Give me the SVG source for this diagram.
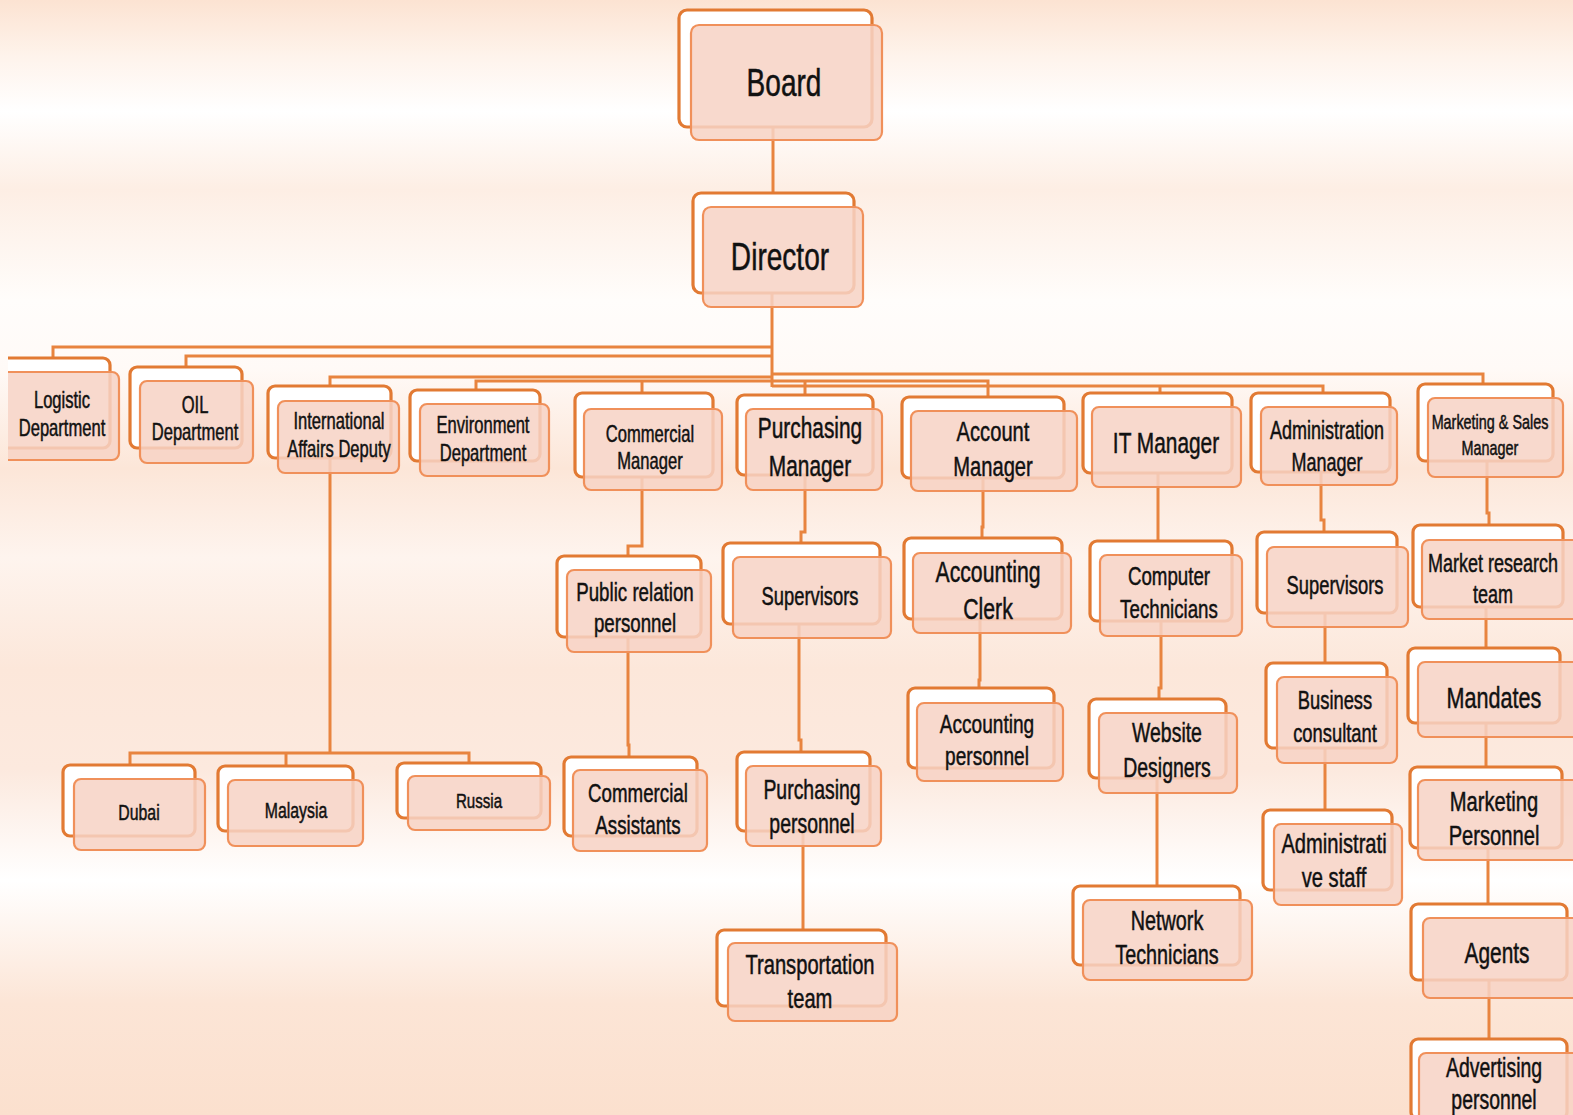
<svg xmlns="http://www.w3.org/2000/svg" width="1573" height="1115" viewBox="0 0 1573 1115">
<defs>
<linearGradient id="bg" x1="0" y1="0" x2="0" y2="1115" gradientUnits="userSpaceOnUse">
<stop offset="0" stop-color="#FCE3D2"/>
<stop offset="0.05" stop-color="#FEF3EB"/>
<stop offset="0.1" stop-color="#FFFFFF"/>
<stop offset="0.17" stop-color="#FDEEE4"/>
<stop offset="0.27" stop-color="#FFFDFB"/>
<stop offset="0.33" stop-color="#FFFAF7"/>
<stop offset="0.42" stop-color="#FCE6D8"/>
<stop offset="0.5" stop-color="#FEF4EE"/>
<stop offset="0.6" stop-color="#FCE7DA"/>
<stop offset="0.69" stop-color="#FCE9DE"/>
<stop offset="0.79" stop-color="#FFFFFF"/>
<stop offset="0.9" stop-color="#FCE5D6"/>
<stop offset="1" stop-color="#FBE0CE"/>
</linearGradient>
<clipPath id="leftclip"><rect x="8" y="0" width="1565" height="1115"/></clipPath>
</defs>
<style>
.b{fill:#FFFFFF;stroke:#E27A33;stroke-width:3.2}
.f{fill:#F7D3C5;fill-opacity:0.86;stroke:#F0905A;stroke-width:2.2}
.c{fill:none;stroke:#E8843F;stroke-width:3}
text{font-family:"Liberation Sans",Arial,sans-serif;fill:#111111;stroke:#111111;stroke-width:0.5;text-anchor:middle}
</style>
<rect x="0" y="0" width="1573" height="1115" fill="url(#bg)"/>

<g id="connectors">
<path class="c" d="M773,127 V193"/>
<path class="c" d="M772,293 V387"/>
<path class="c" d="M772,347 H53 V358"/>
<path class="c" d="M772,356 H186 V367"/>
<path class="c" d="M772,377 H330 V386"/>
<path class="c" d="M772,381 H476 V390"/>
<path class="c" d="M642,381 V393"/>
<path class="c" d="M772,374 H1483 V384"/>
<path class="c" d="M772,381 H988 V397"/>
<path class="c" d="M805,381 V395"/>
<path class="c" d="M772,386 H1323 V393"/>
<path class="c" d="M1160,386 V393"/>
<path class="c" d="M330,458 V753"/>
<path class="c" d="M130,765 V753 H469 V763"/>
<path class="c" d="M286,753 V766"/>
<path class="c" d="M642,477 V546 H628 V556"/>
<path class="c" d="M628,637 V745 H629 V757"/>
<path class="c" d="M805,475 V532 H801 V543"/>
<path class="c" d="M799,624 V740 H801 V752"/>
<path class="c" d="M803,831 V930"/>
<path class="c" d="M983,478 V527 H982 V538"/>
<path class="c" d="M980,619 V680 H979 V688"/>
<path class="c" d="M1158,473 V541"/>
<path class="c" d="M1161,621 V688 H1159 V699"/>
<path class="c" d="M1157,778 V886"/>
<path class="c" d="M1321,472 V520 H1324 V532"/>
<path class="c" d="M1325,613 V663"/>
<path class="c" d="M1325,748 V810"/>
<path class="c" d="M1487,461 V513 H1489 V525"/>
<path class="c" d="M1486,607 V648"/>
<path class="c" d="M1486,723 V767"/>
<path class="c" d="M1488,848 V904"/>
<path class="c" d="M1489,980 V1039"/>
</g>

<g id="board">
<rect class="b" x="679" y="10" width="193" height="117" rx="8"/>
<rect class="f" x="691" y="25" width="191" height="115" rx="8"/>
<text transform="matrix(0.72 0 0 1 784 0)" x="0" y="96" font-size="39">Board</text>
</g>
<g id="director">
<rect class="b" x="693" y="193" width="161" height="100" rx="8"/>
<rect class="f" x="703" y="207" width="160" height="100" rx="8"/>
<text transform="matrix(0.72 0 0 1 780 0)" x="0" y="270" font-size="39">Director</text>
</g>
<g id="logistic" clip-path="url(#leftclip)">
<rect class="b" x="-5" y="358" width="115" height="90" rx="7"/>
<rect class="f" x="-5" y="372" width="124" height="88" rx="7"/>
<text transform="matrix(0.72 0 0 1 62 0)" font-size="23"><tspan x="0" y="408">Logistic</tspan><tspan x="0" y="436">Department</tspan></text>
</g>
<g id="oil">
<rect class="b" x="130" y="367" width="112" height="81" rx="7"/>
<rect class="f" x="140" y="381" width="113" height="82" rx="7"/>
<text transform="matrix(0.72 0 0 1 195 0)" font-size="23"><tspan x="0" y="413">OIL</tspan><tspan x="0" y="440">Department</tspan></text>
</g>
<g id="intl">
<rect class="b" x="268" y="386" width="123" height="72" rx="7"/>
<rect class="f" x="278" y="401" width="121" height="72" rx="7"/>
<text transform="matrix(0.72 0 0 1 339 0)" font-size="23"><tspan x="0" y="429">International</tspan><tspan x="0" y="457">Affairs Deputy</tspan></text>
</g>
<g id="environment">
<rect class="b" x="410" y="390" width="130" height="71" rx="7"/>
<rect class="f" x="420" y="404" width="129" height="72" rx="7"/>
<text transform="matrix(0.72 0 0 1 483 0)" font-size="23"><tspan x="0" y="433">Environment</tspan><tspan x="0" y="461">Department</tspan></text>
</g>
<g id="commercial">
<rect class="b" x="575" y="393" width="138" height="84" rx="7"/>
<rect class="f" x="584" y="409" width="138" height="81" rx="7"/>
<text transform="matrix(0.72 0 0 1 650 0)" font-size="23"><tspan x="0" y="442">Commercial</tspan><tspan x="0" y="469">Manager</tspan></text>
</g>
<g id="purchasing">
<rect class="b" x="737" y="395" width="136" height="80" rx="7"/>
<rect class="f" x="746" y="409" width="136" height="81" rx="7"/>
<text transform="matrix(0.72 0 0 1 810 0)" font-size="29"><tspan x="0" y="438">Purchasing</tspan><tspan x="0" y="476">Manager</tspan></text>
</g>
<g id="account">
<rect class="b" x="902" y="397" width="162" height="81" rx="7"/>
<rect class="f" x="911" y="411" width="166" height="80" rx="7"/>
<text transform="matrix(0.72 0 0 1 993 0)" font-size="28"><tspan x="0" y="441">Account</tspan><tspan x="0" y="476">Manager</tspan></text>
</g>
<g id="it">
<rect class="b" x="1083" y="393" width="149" height="80" rx="7"/>
<rect class="f" x="1092" y="407" width="149" height="80" rx="7"/>
<text transform="matrix(0.72 0 0 1 1166 0)" x="0" y="453" font-size="29">IT Manager</text>
</g>
<g id="administration">
<rect class="b" x="1251" y="393" width="139" height="79" rx="7"/>
<rect class="f" x="1261" y="407" width="136" height="78" rx="7"/>
<text transform="matrix(0.72 0 0 1 1327 0)" font-size="25"><tspan x="0" y="439">Administration</tspan><tspan x="0" y="471">Manager</tspan></text>
</g>
<g id="marketing">
<rect class="b" x="1418" y="384" width="135" height="77" rx="7"/>
<rect class="f" x="1428" y="398" width="135" height="79" rx="7"/>
<text transform="matrix(0.72 0 0 1 1490 0)" font-size="20"><tspan x="0" y="429">Marketing &amp; Sales</tspan><tspan x="0" y="455">Manager</tspan></text>
</g>
<g id="public-relation">
<rect class="b" x="557" y="556" width="144" height="81" rx="7"/>
<rect class="f" x="567" y="570" width="144" height="82" rx="7"/>
<text transform="matrix(0.72 0 0 1 635 0)" font-size="26"><tspan x="0" y="601">Public relation</tspan><tspan x="0" y="632">personnel</tspan></text>
</g>
<g id="supervisors-p">
<rect class="b" x="723" y="543" width="157" height="81" rx="7"/>
<rect class="f" x="733" y="557" width="158" height="81" rx="7"/>
<text transform="matrix(0.72 0 0 1 810 0)" x="0" y="605" font-size="25.5">Supervisors</text>
</g>
<g id="accounting-clerk">
<rect class="b" x="904" y="538" width="158" height="81" rx="7"/>
<rect class="f" x="913" y="553" width="158" height="80" rx="7"/>
<text transform="matrix(0.72 0 0 1 988 0)" font-size="29.5"><tspan x="0" y="582">Accounting</tspan><tspan x="0" y="619">Clerk</tspan></text>
</g>
<g id="computer">
<rect class="b" x="1090" y="541" width="142" height="80" rx="7"/>
<rect class="f" x="1100" y="555" width="142" height="81" rx="7"/>
<text transform="matrix(0.72 0 0 1 1169 0)" font-size="26"><tspan x="0" y="585">Computer</tspan><tspan x="0" y="618">Technicians</tspan></text>
</g>
<g id="accounting-personnel">
<rect class="b" x="908" y="688" width="146" height="80" rx="7"/>
<rect class="f" x="917" y="703" width="146" height="78" rx="7"/>
<text transform="matrix(0.72 0 0 1 987 0)" font-size="26.5"><tspan x="0" y="733">Accounting</tspan><tspan x="0" y="765">personnel</tspan></text>
</g>
<g id="website">
<rect class="b" x="1089" y="699" width="137" height="79" rx="7"/>
<rect class="f" x="1099" y="713" width="138" height="80" rx="7"/>
<text transform="matrix(0.72 0 0 1 1167 0)" font-size="27"><tspan x="0" y="742">Website</tspan><tspan x="0" y="777">Designers</tspan></text>
</g>
<g id="network">
<rect class="b" x="1073" y="886" width="167" height="79" rx="7"/>
<rect class="f" x="1083" y="900" width="169" height="80" rx="7"/>
<text transform="matrix(0.72 0 0 1 1167 0)" font-size="27.5"><tspan x="0" y="930">Network</tspan><tspan x="0" y="964">Technicians</tspan></text>
</g>
<g id="supervisors-a">
<rect class="b" x="1257" y="532" width="140" height="81" rx="7"/>
<rect class="f" x="1267" y="547" width="141" height="80" rx="7"/>
<text transform="matrix(0.72 0 0 1 1335 0)" x="0" y="594" font-size="25.5">Supervisors</text>
</g>
<g id="business">
<rect class="b" x="1266" y="663" width="121" height="85" rx="7"/>
<rect class="f" x="1277" y="677" width="120" height="86" rx="7"/>
<text transform="matrix(0.72 0 0 1 1335 0)" font-size="25.5"><tspan x="0" y="709">Business</tspan><tspan x="0" y="742">consultant</tspan></text>
</g>
<g id="admin-staff">
<rect class="b" x="1263" y="810" width="129" height="80" rx="7"/>
<rect class="f" x="1274" y="824" width="128" height="81" rx="7"/>
<text transform="matrix(0.72 0 0 1 1334 0)" font-size="28"><tspan x="0" y="853">Administrati</tspan><tspan x="0" y="887">ve staff</tspan></text>
</g>
<g id="commercial-assistants">
<rect class="b" x="564" y="757" width="133" height="79" rx="7"/>
<rect class="f" x="573" y="770" width="134" height="81" rx="7"/>
<text transform="matrix(0.72 0 0 1 638 0)" font-size="26"><tspan x="0" y="802">Commercial</tspan><tspan x="0" y="834">Assistants</tspan></text>
</g>
<g id="purchasing-personnel">
<rect class="b" x="737" y="752" width="133" height="79" rx="7"/>
<rect class="f" x="746" y="766" width="135" height="80" rx="7"/>
<text transform="matrix(0.72 0 0 1 812 0)" font-size="27"><tspan x="0" y="799">Purchasing</tspan><tspan x="0" y="833">personnel</tspan></text>
</g>
<g id="transportation">
<rect class="b" x="717" y="930" width="169" height="76" rx="7"/>
<rect class="f" x="728" y="943" width="169" height="78" rx="7"/>
<text transform="matrix(0.72 0 0 1 810 0)" font-size="28"><tspan x="0" y="974">Transportation</tspan><tspan x="0" y="1008">team</tspan></text>
</g>
<g id="market-research">
<rect class="b" x="1413" y="525" width="150" height="82" rx="7"/>
<rect class="f" x="1422" y="540" width="158" height="79" rx="7"/>
<text transform="matrix(0.72 0 0 1 1493 0)" font-size="25"><tspan x="0" y="572">Market research</tspan><tspan x="0" y="603">team</tspan></text>
</g>
<g id="mandates">
<rect class="b" x="1408" y="648" width="152" height="75" rx="7"/>
<rect class="f" x="1418" y="662" width="162" height="75" rx="7"/>
<text transform="matrix(0.72 0 0 1 1494 0)" x="0" y="708" font-size="30">Mandates</text>
</g>
<g id="marketing-personnel">
<rect class="b" x="1410" y="767" width="152" height="81" rx="7"/>
<rect class="f" x="1418" y="780" width="162" height="80" rx="7"/>
<text transform="matrix(0.72 0 0 1 1494 0)" font-size="28"><tspan x="0" y="811">Marketing</tspan><tspan x="0" y="845">Personnel</tspan></text>
</g>
<g id="agents">
<rect class="b" x="1411" y="904" width="156" height="76" rx="7"/>
<rect class="f" x="1423" y="918" width="162" height="80" rx="7"/>
<text transform="matrix(0.72 0 0 1 1497 0)" x="0" y="963" font-size="29">Agents</text>
</g>
<g id="advertising">
<rect class="b" x="1411" y="1039" width="156" height="80" rx="7"/>
<rect class="f" x="1419" y="1053" width="162" height="80" rx="7"/>
<text transform="matrix(0.72 0 0 1 1494 0)" font-size="27"><tspan x="0" y="1077">Advertising</tspan><tspan x="0" y="1109">personnel</tspan></text>
</g>
<g id="dubai">
<rect class="b" x="63" y="765" width="132" height="71" rx="7"/>
<rect class="f" x="74" y="779" width="131" height="71" rx="7"/>
<text transform="matrix(0.72 0 0 1 139 0)" x="0" y="820" font-size="22">Dubai</text>
</g>
<g id="malaysia">
<rect class="b" x="218" y="766" width="135" height="65" rx="7"/>
<rect class="f" x="228" y="780" width="135" height="66" rx="7"/>
<text transform="matrix(0.72 0 0 1 296 0)" x="0" y="818" font-size="22">Malaysia</text>
</g>
<g id="russia">
<rect class="b" x="397" y="763" width="144" height="55" rx="7"/>
<rect class="f" x="408" y="776" width="142" height="54" rx="7"/>
<text transform="matrix(0.72 0 0 1 479 0)" x="0" y="808" font-size="21">Russia</text>
</g>
</svg>
